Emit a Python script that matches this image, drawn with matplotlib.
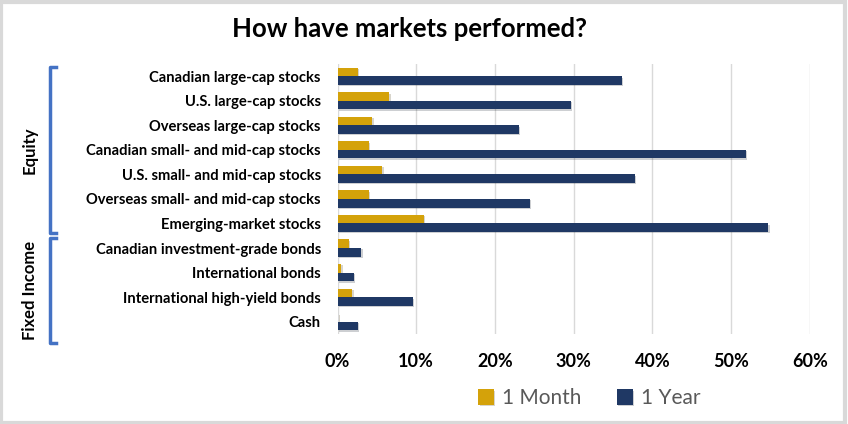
import matplotlib.pyplot as plt
import matplotlib.patheffects as pe
from matplotlib.patches import Rectangle
import numpy as np

# values (fractions)
categories = [
    "Canadian large-cap stocks",
    "U.S. large-cap stocks",
    "Overseas large-cap stocks",
    "Canadian small- and mid-cap stocks",
    "U.S. small- and mid-cap stocks",
    "Overseas small- and mid-cap stocks",
    "Emerging-market stocks",
    "Canadian investment-grade bonds",
    "International bonds",
    "International high-yield bonds",
    "Cash",
]
one_month = [0.026, 0.066, 0.044, 0.040, 0.057, 0.040, 0.110, 0.014, 0.005, 0.019, 0.001]
one_year = [0.361, 0.296, 0.230, 0.519, 0.378, 0.244, 0.547, 0.030, 0.021, 0.096, 0.026]
groups = [("Equity", 0, 6), ("Fixed Income", 7, 10)]
xticks = [0, 0.1, 0.2, 0.3, 0.4, 0.5, 0.6]

gold = "#D4A20A"
navy = "#1F3864"
bracket_blue = "#4472C4"
font = "Lato"

W, H = 848, 424
fig = plt.figure(figsize=(W / 100, H / 100), dpi=100)
fig.patches.append(Rectangle((0.0015, 0.003), 0.9955, 0.993, transform=fig.transFigure,
                             fill=False, edgecolor="#d9d9d9", linewidth=3))

ax = fig.add_axes([0.398, 0.2123, 0.557, 0.637])
y = np.arange(len(categories))
h = 0.35
shadow = [pe.SimplePatchShadow(offset=(1, -1), alpha=0.2), pe.Normal()]
ax.barh(y - h / 2, one_month, height=h, color=gold, label="1 Month", path_effects=shadow, zorder=3)
ax.barh(y + h / 2, one_year, height=h, color=navy, label="1 Year", path_effects=shadow, zorder=3)

ax.set_ylim(len(categories) - 0.5, -0.5)
ax.set_xlim(0, 0.6)
ax.set_xticks(xticks)
ax.set_xticklabels([f"{int(round(t * 100))}%" for t in xticks],
                   fontfamily=font, fontweight="bold", fontsize=13)
ax.set_yticks(y)
ax.set_yticklabels(categories, fontfamily=font, fontweight="bold", fontsize=10.6)
ax.tick_params(axis="y", length=0, pad=12)
ax.tick_params(axis="x", length=0, pad=14)
ax.grid(axis="x", color="#d9d9d9", linewidth=1, zorder=0)
for s in ax.spines.values():
    s.set_visible(False)

fig.text(409 / W, 1 - 37 / H, "How have markets performed?", fontfamily=font,
         fontweight="bold", fontsize=18.5, ha="center", va="baseline")

leg = fig.legend(loc="center", bbox_to_anchor=(0.695, 0.061), ncol=2, frameon=False,
                 prop={"family": font, "size": 15}, handlelength=0.75, handleheight=0.75,
                 handletextpad=0.4, columnspacing=1.7)
for t in leg.get_texts():
    t.set_color("#595959")

# group brackets on the left
def to_fig_y(v):
    return fig.transFigure.inverted().transform(ax.transData.transform((0, v)))[1]

px = 1 / H
# pixel nudges (downwards) for bracket top / bottom ends
offsets = {"Equity": (3, -2.5), "Fixed Income": (2.5, 9)}
for name, i0, i1 in groups:
    d_top, d_bot = offsets[name]
    top = to_fig_y(i0 - 0.5) - d_top * px
    bot = to_fig_y(i1 + 0.5) - d_bot * px
    xb = 50 / W
    fig.lines.append(plt.Line2D([xb + 6 / W, xb, xb, xb + 6 / W], [top, top, bot, bot],
                                transform=fig.transFigure, color=bracket_blue, linewidth=2.5))
    fig.text(30 / W, (top + bot) / 2, name, rotation=90, ha="center", va="center",
             fontfamily=font, fontweight="bold", fontsize=12)

fig.savefig("out.png", dpi=100)
